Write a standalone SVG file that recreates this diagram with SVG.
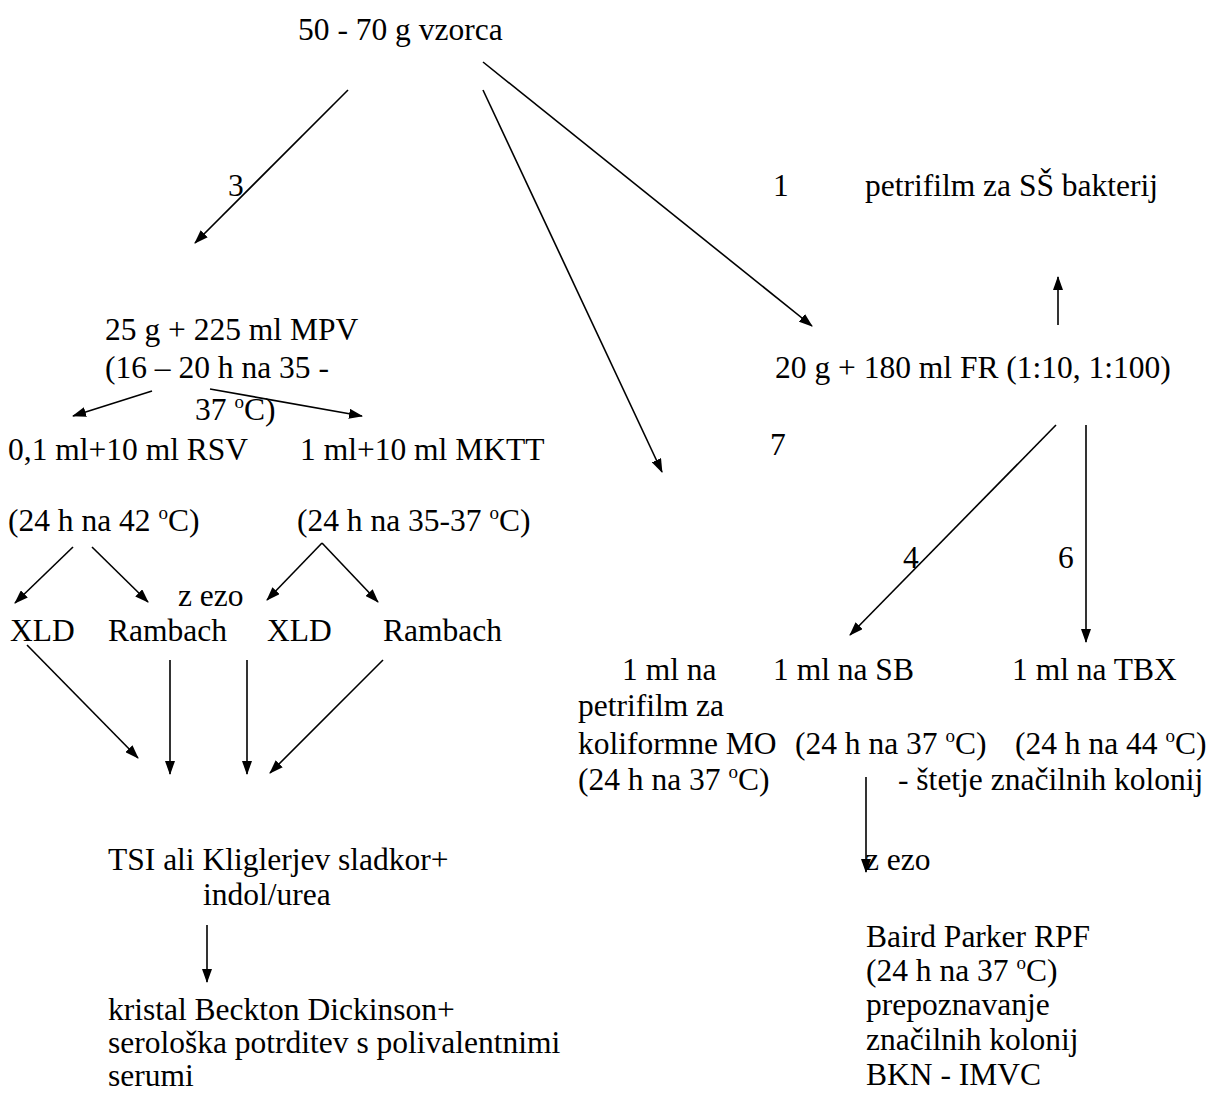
<svg xmlns="http://www.w3.org/2000/svg" width="1212" height="1097" viewBox="0 0 1212 1097">
  <style>
    text { font-family: "Liberation Serif", "Times New Roman", serif; font-size: 31.5px; fill: #000; }
    .sup { font-size: 19px; }
    .conn line { stroke: #000; stroke-width: 1.6; marker-end: url(#ah); }
  </style>
  <defs>
    <marker id="ah" viewBox="0 0 14 10" refX="13" refY="5" markerWidth="14" markerHeight="10" markerUnits="userSpaceOnUse" orient="auto">
      <path d="M0,0 L14,5 L0,10 Z" fill="#000"/>
    </marker>
  </defs>
  <rect width="1212" height="1097" fill="#fff"/>

  <!-- sample and first split -->
  <g id="sample"><text x="298" y="40">50 - 70 g vzorca</text></g>
  <g id="label-3"><text x="228" y="196">3</text></g>
  <g id="label-1"><text x="773" y="196">1</text></g>
  <g id="petrifilm-ss"><text x="865" y="196">petrifilm za SŠ bakterij</text></g>

  <!-- enrichment branch -->
  <g id="mpv">
    <text x="105" y="340">25 g + 225 ml MPV</text>
    <text x="105" y="378">(16 – 20 h na 35 -</text>
    <text x="195" y="420">37 <tspan class="sup" dy="-12">o</tspan><tspan dy="12">C)</tspan></text>
  </g>
  <g id="fr"><text x="775" y="378">20 g + 180 ml FR (1:10, 1:100)</text></g>
  <g id="rsv"><text x="8" y="460">0,1 ml+10 ml RSV</text></g>
  <g id="mktt"><text x="300" y="460">1 ml+10 ml MKTT</text></g>
  <g id="label-7"><text x="770" y="455">7</text></g>

  <g id="rsv-inc"><text x="8" y="531">(24 h na 42 <tspan class="sup" dy="-12">o</tspan><tspan dy="12">C)</tspan></text></g>
  <g id="mktt-inc"><text x="297" y="531">(24 h na 35-37 <tspan class="sup" dy="-12">o</tspan><tspan dy="12">C)</tspan></text></g>
  <g id="loop-1"><text x="178" y="606">z ezo</text></g>
  <g id="plates">
    <text x="10" y="641">XLD</text>
    <text x="108" y="641">Rambach</text>
    <text x="267" y="641">XLD</text>
    <text x="383" y="641">Rambach</text>
  </g>

  <!-- dilution branch -->
  <g id="label-4"><text x="903" y="568">4</text></g>
  <g id="label-6"><text x="1058" y="568">6</text></g>

  <g id="coliform">
    <text x="622" y="680">1 ml na</text>
    <text x="578" y="716">petrifilm za</text>
    <text x="578" y="754">koliformne MO</text>
    <text x="578" y="790">(24 h na 37 <tspan class="sup" dy="-12">o</tspan><tspan dy="12">C)</tspan></text>
  </g>
  <g id="sb">
    <text x="773" y="680">1 ml na SB</text>
    <text x="795" y="754">(24 h na 37 <tspan class="sup" dy="-12">o</tspan><tspan dy="12">C)</tspan></text>
  </g>
  <g id="tbx">
    <text x="1012" y="680">1 ml na TBX</text>
    <text x="1015" y="754">(24 h na 44 <tspan class="sup" dy="-12">o</tspan><tspan dy="12">C)</tspan></text>
    <text x="898" y="790">- štetje značilnih kolonij</text>
  </g>

  <!-- confirmation -->
  <g id="tsi">
    <text x="108" y="870">TSI ali Kliglerjev sladkor+</text>
    <text x="203" y="905">indol/urea</text>
  </g>
  <g id="loop-2"><text x="865" y="870">z ezo</text></g>

  <g id="crystal">
    <text x="108" y="1020">kristal Beckton Dickinson+</text>
    <text x="108" y="1053">serološka potrditev s polivalentnimi</text>
    <text x="108" y="1086">serumi</text>
  </g>
  <g id="baird-parker">
    <text x="866" y="947">Baird Parker RPF</text>
    <text x="866" y="981">(24 h na 37 <tspan class="sup" dy="-12">o</tspan><tspan dy="12">C)</tspan></text>
    <text x="866" y="1015">prepoznavanje</text>
    <text x="866" y="1050">značilnih kolonij</text>
    <text x="866" y="1085">BKN - IMVC</text>
  </g>

  <g id="connectors" class="conn">
    <line x1="348" y1="90" x2="195" y2="243"/>
    <line x1="483" y1="90" x2="662" y2="472"/>
    <line x1="483" y1="62" x2="812" y2="326"/>
    <line x1="1058" y1="325" x2="1058" y2="277"/>
    <line x1="152" y1="391" x2="73" y2="416"/>
    <line x1="210" y1="389" x2="362" y2="416"/>
    <line x1="73" y1="547" x2="15" y2="603"/>
    <line x1="92" y1="547" x2="148" y2="602"/>
    <line x1="322" y1="543" x2="267" y2="600"/>
    <line x1="322" y1="543" x2="378" y2="602"/>
    <line x1="27" y1="645" x2="138" y2="758"/>
    <line x1="170" y1="660" x2="170" y2="774"/>
    <line x1="247" y1="660" x2="247" y2="774"/>
    <line x1="383" y1="660" x2="270" y2="773"/>
    <line x1="207" y1="925" x2="207" y2="982"/>
    <line x1="1056" y1="425" x2="850" y2="635"/>
    <line x1="1086" y1="425" x2="1086" y2="642"/>
    <line x1="866" y1="777" x2="866" y2="872"/>
  </g>
</svg>
